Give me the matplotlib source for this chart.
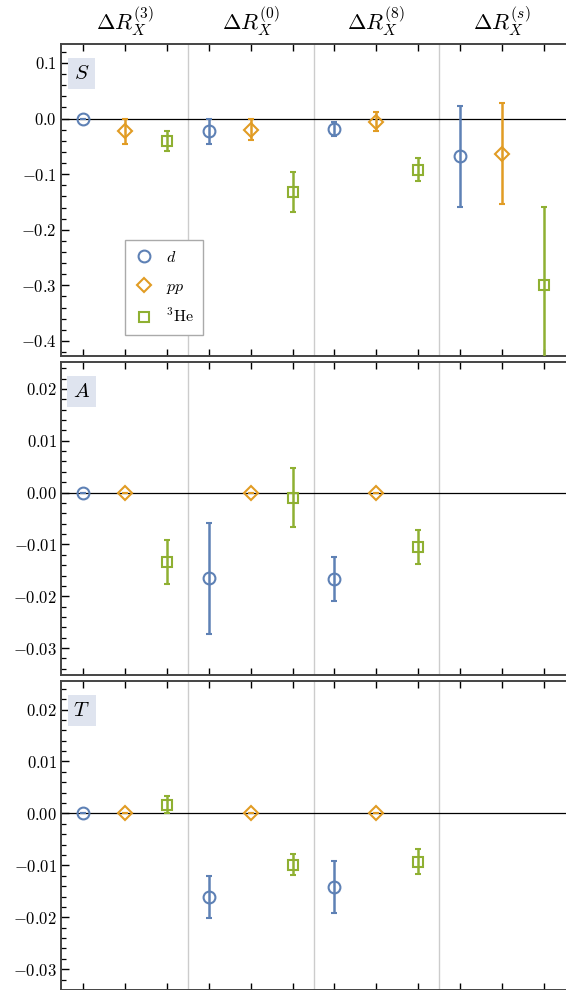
import numpy as np
import matplotlib
matplotlib.use("Agg")
import matplotlib.pyplot as plt
from matplotlib.lines import Line2D
from matplotlib.ticker import MultipleLocator, FuncFormatter

plt.rcParams['mathtext.fontset'] = 'cm'
plt.rcParams['font.family'] = ['DejaVu Serif']

# x positions: 4 groups of 3 (d, pp, 3He)
groups = [r'$\Delta R_X^{(3)}$', r'$\Delta R_X^{(0)}$', r'$\Delta R_X^{(8)}$', r'$\Delta R_X^{(s)}$']
x_d = [1, 4, 7, 10]
x_pp = [2, 5, 8, 11]
x_he = [3, 6, 9, 12]

# S panel
S_d = [0.0, -0.023, -0.019, -0.068]
S_d_err = [0.0, 0.022, 0.012, 0.091]
S_pp = [-0.023, -0.020, -0.006, -0.063]
S_pp_err = [0.023, 0.019, 0.017, 0.091]
S_he = [-0.040, -0.132, -0.092, -0.299]
S_he_err = [0.018, 0.036, 0.021, 0.140]

# A panel (no s-group values)
A_d = [0.0, -0.0165, -0.0167]
A_d_err = [0.0, 0.0107, 0.0043]
A_pp = [0.0, 0.0, 0.0]
A_pp_err = [0.0, 0.0, 0.0]
A_he = [-0.0134, -0.0010, -0.0105]
A_he_err = [0.0043, 0.0057, 0.0033]

# T panel
T_d = [0.0, -0.0161, -0.0142]
T_d_err = [0.0, 0.0040, 0.0050]
T_pp = [0.0, 0.0, 0.0]
T_pp_err = [0.0, 0.0, 0.0]
T_he = [0.0017, -0.0099, -0.0093]
T_he_err = [0.0017, 0.0020, 0.0024]

c_d = '#5e81b5'
c_pp = '#e19c24'
c_he = '#8fb032'

fig = plt.figure(figsize=(5.66, 9.9), dpi=100)
left, width = 61 / 566, 505 / 566
ax_S = fig.add_axes([left, 634 / 990, width, 312 / 990])
ax_A = fig.add_axes([left, 315 / 990, width, 313 / 990])
ax_T = fig.add_axes([left, 0.0, width, 309 / 990])

panels = [
    (ax_S, 'S', (S_d, S_d_err, S_pp, S_pp_err, S_he, S_he_err), (-0.427, 0.134), 0.1, 0.02, 1),
    (ax_A, 'A', (A_d, A_d_err, A_pp, A_pp_err, A_he, A_he_err), (-0.0352, 0.0252), 0.01, 0.002, 2),
    (ax_T, 'T', (T_d, T_d_err, T_pp, T_pp_err, T_he, T_he_err), (-0.0340, 0.0255), 0.01, 0.002, 2),
]

for ax, name, vals, ylim, major, minor, dec in panels:
    d, de, pp, ppe, he, hee = vals
    n = len(d)
    for sep in [3.5, 6.5, 9.5]:
        ax.axvline(sep, color='#cccccc', lw=1.0, zorder=0)
    ax.axhline(0, color='black', lw=0.9, zorder=1)
    kw = dict(ls='none', mfc='none', ms=8.5, mew=1.5, elinewidth=1.8, capsize=2.5, capthick=1.6, zorder=3)
    ax.errorbar(x_d[:n], d, yerr=de, color=c_d, marker='o', **kw)
    ax.errorbar(x_pp[:n], pp, yerr=ppe, color=c_pp, marker='D', **dict(kw, ms=7.5))
    ax.errorbar(x_he[:n], he, yerr=hee, color=c_he, marker='s', **dict(kw, ms=7.5))

    ax.set_xlim(0.475, 12.525)
    ax.set_ylim(*ylim)
    ax.set_xticks(range(1, 13))
    ax.set_xticklabels([])
    ax.yaxis.set_major_locator(MultipleLocator(major))
    ax.yaxis.set_minor_locator(MultipleLocator(minor))
    ax.yaxis.set_major_formatter(FuncFormatter(lambda v, p, dec=dec: '$%.*f$' % (dec, v + 0.0)))
    ax.tick_params(axis='x', which='both', direction='in', top=True, bottom=True, length=5, width=1.0)
    ax.tick_params(axis='y', which='major', direction='in', left=True, right=False, length=6, width=1.0,
                   labelsize=12, pad=3)
    ax.tick_params(axis='y', which='minor', direction='in', left=True, right=False, length=3.5, width=0.9)
    ax.spines['right'].set_visible(False)
    for s in ['left', 'top', 'bottom']:
        ax.spines[s].set_color('#444444')
        ax.spines[s].set_linewidth(1.4)

    ax.text(0.041, 0.905, '$%s$' % name, transform=ax.transAxes, fontsize=15,
            ha='center', va='center', zorder=4,
            bbox=dict(facecolor='#dfe4ef', edgecolor='none', boxstyle='square,pad=0.28'))

# top group labels
ax_top = ax_S.secondary_xaxis('top')
ax_top.set_xticks([2, 5, 8, 11])
ax_top.set_xticklabels(groups, fontsize=16)
ax_top.tick_params(length=0, pad=4)
ax_top.spines['top'].set_visible(False)

handles = [
    Line2D([], [], ls='none', marker='o', mfc='none', mec=c_d, ms=8.5, mew=1.5, label='$d$'),
    Line2D([], [], ls='none', marker='D', mfc='none', mec=c_pp, ms=7.5, mew=1.5, label='$pp$'),
    Line2D([], [], ls='none', marker='s', mfc='none', mec=c_he, ms=7.5, mew=1.5, label=r'$^3\mathrm{He}$'),
]
leg = ax_S.legend(handles=handles, loc='upper left', bbox_to_anchor=(0.127, 0.372), fontsize=11.5,
                  fancybox=False, framealpha=1, edgecolor='#aaaaaa', borderpad=0.55,
                  borderaxespad=0, handlelength=1.2, handletextpad=0.8, labelspacing=0.75)
leg.get_frame().set_linewidth(1.0)

fig.savefig('out.png', dpi=100)
